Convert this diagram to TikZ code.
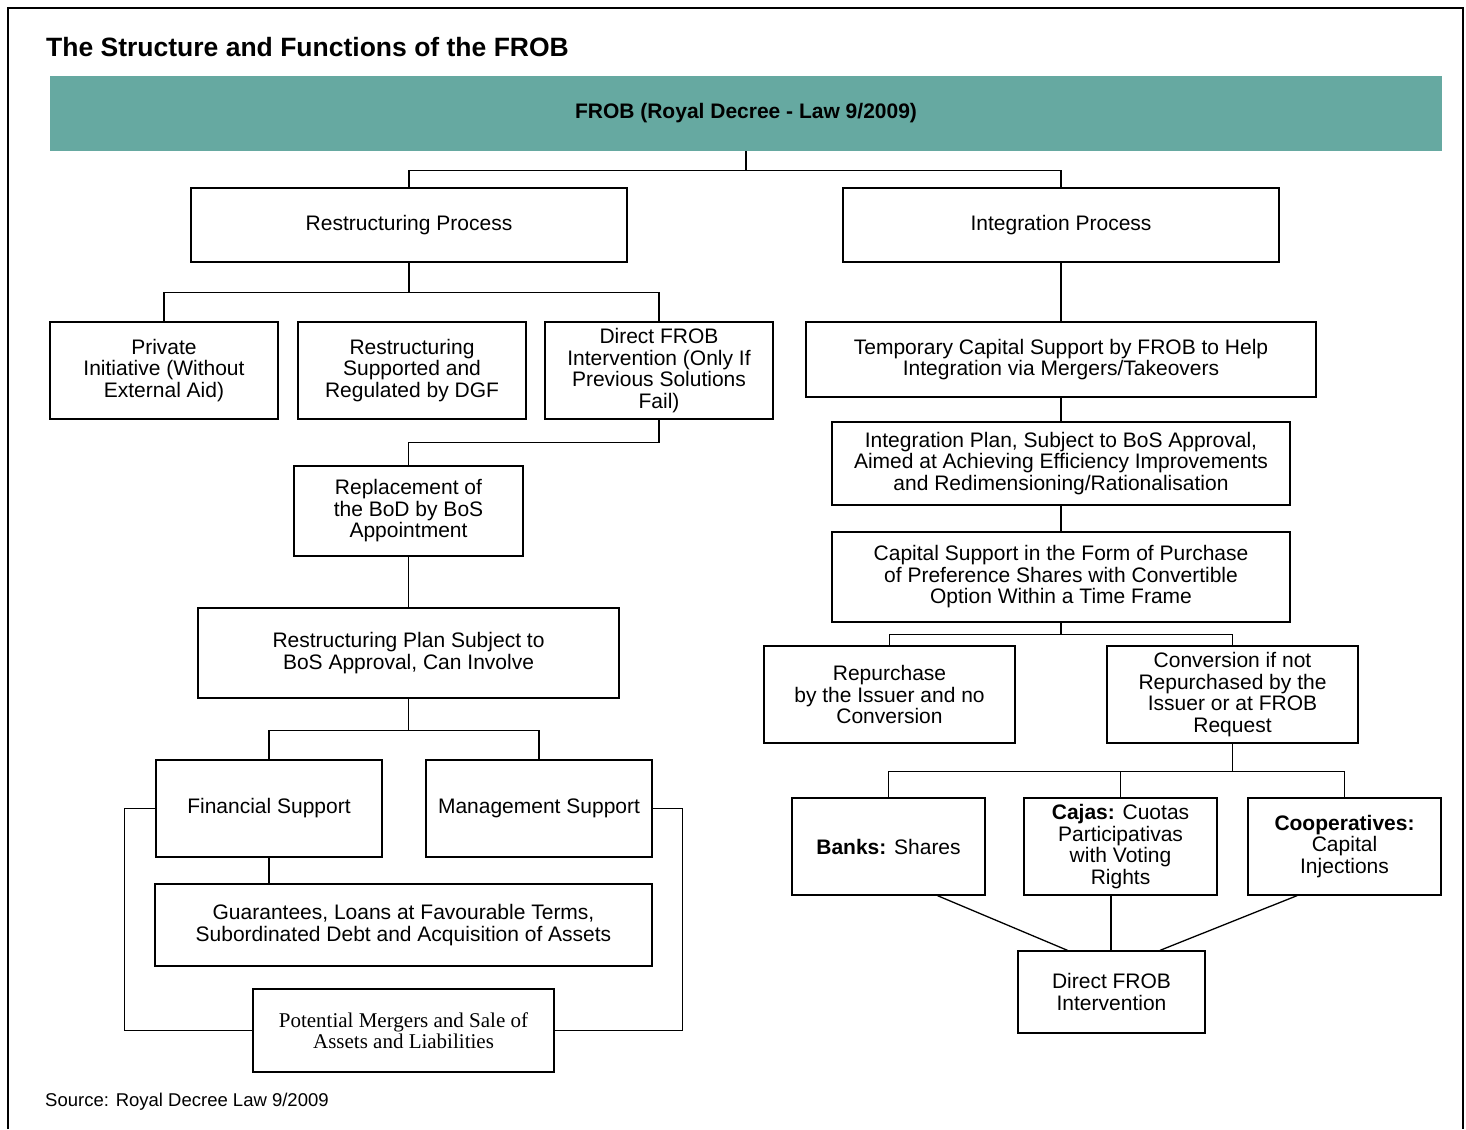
\documentclass[tikz,border=0pt]{standalone}
\usepackage{fontspec}
\setmainfont{Liberation Sans}
\newfontfamily\timesfont{Liberation Serif}
\usetikzlibrary{positioning}
\definecolor{frobteal}{HTML}{66A9A1}
\tikzset{
  box/.style={draw, line width=1.3pt, inner sep=0pt, align=center,
    font=\fontsize{21}{21.5}\selectfont},
  link/.style={line width=1.3pt},
}

\begin{document}
\begin{tikzpicture}[x=1pt, y=-1pt]
      \useasboundingbox (0,0) rectangle (1466,1129);
      \draw[line width=2.5pt] (8,1129) -- (8,8) -- (1463,8) -- (1463,1129);

      \node[anchor=base west, inner sep=0pt, font=\bfseries\fontsize{26.5}{28}\selectfont] (TITLE) at (46,57) {The Structure and Functions of the FROB};
      \node[anchor=base west, inner sep=0pt, font=\fontsize{18.5}{20}\selectfont] (SRC) at (45,1106) {Source: Royal Decree Law 9/2009};

      \node[fill=frobteal, inner sep=0pt, minimum width=1392, minimum height=75, font=\bfseries\fontsize{21}{22}\selectfont] (FROB) at (746,113.5) {FROB (Royal Decree - Law 9/2009)};

      % restructuring side
      \node[box, minimum width=436, minimum height=74] (RS1) at (409,225) {Restructuring Process};
      \node[box, minimum width=228, minimum height=97] (RS2) at (164,370.5) {Private\\Initiative (Without\\External Aid)};
      \node[box, minimum width=228, minimum height=97] (RS3) at (412,370.5) {Restructuring\\Supported and\\Regulated by DGF};
      \node[box, minimum width=228, minimum height=97] (RS4) at (659,370.5) {Direct FROB\\Intervention (Only If\\Previous Solutions\\Fail)};
      \node[box, minimum width=229, minimum height=90] (RS5) at (408.5,511) {Replacement of\\the BoD by BoS\\Appointment};
      \node[box, minimum width=421, minimum height=90] (RS6) at (408.5,653) {Restructuring Plan Subject to\\BoS Approval, Can Involve};
      \node[box, minimum width=226, minimum height=97] (RS7) at (269,808.5) {Financial Support};
      \node[box, minimum width=226, minimum height=97] (RS8) at (539,808.5) {Management Support};
      \node[box, minimum width=497, minimum height=82] (RS9) at (403.5,925) {Guarantees, Loans at Favourable Terms,\\Subordinated Debt and Acquisition of Assets};
      \node[box, minimum width=301, minimum height=83, font=\timesfont\fontsize{21}{21.5}\selectfont] (RS10) at (403.5,1030.5) {Potential Mergers and Sale of\\Assets and Liabilities};

      % integration side
      \node[box, minimum width=436, minimum height=74] (IN1) at (1061,225) {Integration Process};
      \node[box, minimum width=510, minimum height=75] (IN2) at (1061,359.5) {Temporary Capital Support by FROB to Help\\Integration via Mergers/Takeovers};
      \node[box, minimum width=458, minimum height=83] (IN3) at (1061,463.5) {Integration Plan, Subject to BoS Approval,\\Aimed at Achieving Efficiency Improvements\\and Redimensioning/Rationalisation};
      \node[box, minimum width=458, minimum height=90] (IN4) at (1061,577) {Capital Support in the Form of Purchase\\of Preference Shares with Convertible\\Option Within a Time Frame};
      \node[box, minimum width=251, minimum height=97] (IN5) at (889.5,694.5) {Repurchase\\by the Issuer and no\\Conversion};
      \node[box, minimum width=251, minimum height=97] (IN6) at (1232.5,694.5) {Conversion if not\\Repurchased by the\\Issuer or at FROB\\Request};
      \node[box, minimum width=193, minimum height=97] (IN7) at (888.5,846.5) {\textbf{Banks:} Shares};
      \node[box, minimum width=193, minimum height=97] (IN8) at (1120.5,846.5) {\textbf{Cajas:} Cuotas\\Participativas\\with Voting\\Rights};
      \node[box, minimum width=193, minimum height=97] (IN9) at (1344.5,846.5) {\textbf{Cooperatives:}\\Capital\\Injections};
      \node[box, minimum width=187, minimum height=82] (IN10) at (1111.5,992) {Direct FROB\\Intervention};

      \draw[link] (FROB.south) -- ++(0,19) -| (RS1.north);
      \draw[link] (FROB.south) -- ++(0,19) -| (IN1.north);

      \draw[link] (RS1.south) -- ++(0,30) -| (RS2.north);
      \draw[link] (RS1.south) -- ++(0,30) -| (RS4.north);
      \draw[link] (RS4.south) -- ++(0,23) -| (RS5.north);
      \draw[link] (RS5.south) -- (RS6.north);
      \draw[link] (RS6.south) -- ++(0,32) -| (RS7.north);
      \draw[link] (RS6.south) -- ++(0,32) -| (RS8.north);
      \draw[link] (RS7.south) -- (RS7.south |- RS9.north);
      \draw[link] (RS7.west) -- ++(-31,0) |- (RS10.west);
      \draw[link] (RS8.east) -- ++(30,0) |- (RS10.east);

      \draw[link] (IN1.south) -- (IN2.north);
      \draw[link] (IN2.south) -- (IN3.north);
      \draw[link] (IN3.south) -- (IN4.north);
      \draw[link] (IN4.south) -- ++(0,12) -| (IN5.north);
      \draw[link] (IN4.south) -- ++(0,12) -| (IN6.north);
      \draw[link] (IN6.south) -- ++(0,28) -| (IN7.north);
      \draw[link] (IN6.south) -- ++(0,28) -| (IN8.north);
      \draw[link] (IN6.south) -- ++(0,28) -| (IN9.north);
      \draw[link] ([xshift=49pt]IN7.south) -- ([xshift=-44pt]IN10.north);
      \draw[link] ([xshift=-9.5pt]IN8.south) -- ([xshift=-0.5pt]IN10.north);
      \draw[link] ([xshift=-47.5pt]IN9.south) -- ([xshift=48.5pt]IN10.north);
    \end{tikzpicture}
\end{document}
